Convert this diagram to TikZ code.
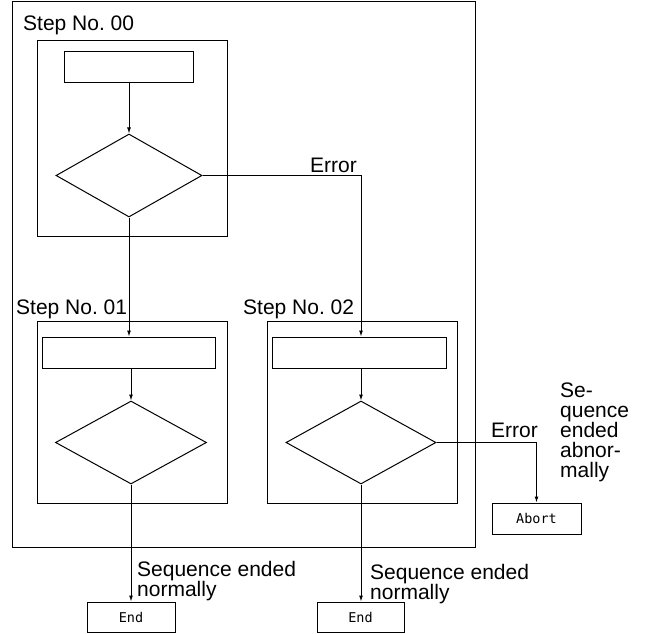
\documentclass[tikz,border=0pt]{standalone}
\usepackage{fontspec}
\setmainfont{Liberation Sans}
\newfontfamily\monof{DejaVu Sans Mono}
\frenchspacing
\usetikzlibrary{shapes.geometric,arrows.meta}
\begin{document}
\begin{tikzpicture}[x=1pt,y=-1pt,
  box/.style={draw,line width=1pt,inner sep=0pt,rectangle},
  proc/.style={draw,line width=1pt,inner sep=0pt,rectangle},
  dec/.style={draw,line width=1pt,inner sep=0pt,diamond},
  term/.style={draw,line width=1pt,inner sep=0pt,rectangle,font=\monof\fontsize{13.5}{15}\selectfont},
  lbl/.style={inner sep=0pt,font=\fontsize{21}{21}\selectfont},
  steplbl/.style={inner sep=0pt,anchor=base west,font=\fontsize{21}{21}\selectfont},
  conn/.style={line width=1pt,-{Latex[length=6pt,width=4pt]}}]
\useasboundingbox (0,0) rectangle (646,634);
% containers
\node[box,minimum width=463pt,minimum height=545pt] (outer) at (243.5,274.5) {};
\node[box,minimum width=190pt,minimum height=195pt] (b00) at (132,138.5) {};
\node[box,minimum width=190pt,minimum height=182pt] (b01) at (132,412) {};
\node[box,minimum width=190pt,minimum height=182pt] (b02) at (362,412) {};
% labels of steps
\node[steplbl] (s00) at (23,31) {Step No. 00};
\node[steplbl] (s01) at (16,314) {Step No. 01};
\node[steplbl] (s02) at (243,314) {Step No. 02};
% shapes
\node[proc,minimum width=129pt,minimum height=31pt] (r00) at (128.5,67.5) {};
\node[dec,minimum width=146pt,minimum height=83pt] (d00) at (129,175.5) {};
\node[proc,minimum width=173pt,minimum height=31pt] (r01) at (128.5,352.5) {};
\node[dec,minimum width=151pt,minimum height=83pt] (d01) at (131,442.5) {};
\node[proc,minimum width=174pt,minimum height=31pt] (r02) at (359,352.5) {};
\node[dec,minimum width=150pt,minimum height=83pt] (d02) at (361,442.5) {};
\node[term,minimum width=88pt,minimum height=30pt] (e1) at (131,617) {End};
\node[term,minimum width=87pt,minimum height=30pt] (e2) at (360.5,617) {End};
\node[term,minimum width=89pt,minimum height=31pt] (ab) at (536.5,518.5) {Abort};
% connectors
\draw[conn] (r00.south -| d00.north) -- (d00.north);
\draw[conn] (d00.south) -- (d00.south |- r01.north);
\draw[conn] (d00.east) -| (r02.north -| d02.north);
\draw[conn] (r01.south -| d01.north) -- (d01.north);
\draw[conn] (d01.south) -- (d01.south |- e1.north);
\draw[conn] (r02.south -| d02.north) -- (d02.north);
\draw[conn] (d02.south) -- (d02.south |- e2.north);
\draw[conn] (d02.east) -| (ab.north);
% texts
\node[lbl,anchor=base west] (err1) at (310,172) {Error};
\node[lbl,anchor=base west] (err2) at (491,437) {Error};
\node[lbl,anchor=north west,align=left,font=\fontsize{21}{20}\selectfont] (abn) at (560,383) {Se-\\quence\\ended\\abnor-\\mally};
\node[lbl,anchor=north west,align=left,font=\fontsize{21}{17.5}\selectfont] (n1) at (137,561) {Sequence ended\\normally};
\node[lbl,anchor=north west,align=left,font=\fontsize{21}{17.5}\selectfont] (n2) at (370,564) {Sequence ended\\normally};
\end{tikzpicture}
\end{document}
